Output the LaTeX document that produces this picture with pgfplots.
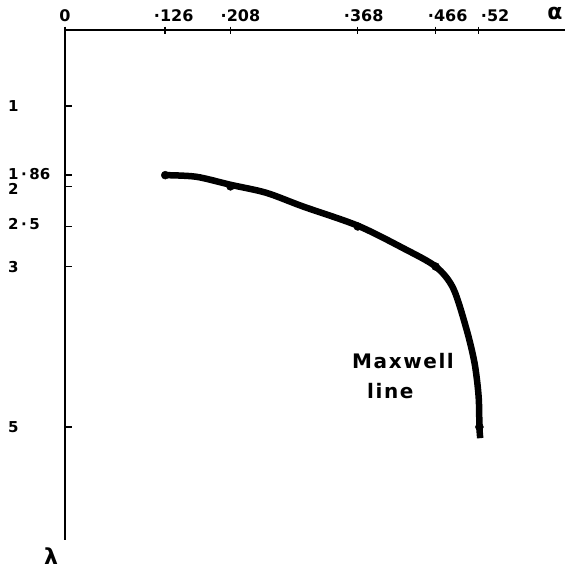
\documentclass[border=0pt]{standalone}
\usepackage{pgfplots}
\pgfplotsset{compat=1.18}
\usepackage{fontspec}
\setmainfont{DejaVu Sans}
\newfontfamily\lab{DejaVu Sans}
\newfontfamily\lsp[LetterSpace=8]{DejaVu Sans}
\newfontfamily\dv{DejaVu Sans}
\newcommand\sh[2]{\makebox[0pt]{\hspace*{#1}#2}}
\newcommand\rb[2]{\smash{\raisebox{#1}{#2}}}
\begin{document}
\begin{tikzpicture}[x=1pt,y=1pt]
\path[use as bounding box] (0,0) rectangle (565,-570);
\begin{axis}[at={(65pt,-30pt)}, anchor=north west, scale only axis,
 width=500pt, height=510pt,
 xmin=0, xmax=0.6286, ymin=0.05, ymax=6.41, y dir=reverse,
 axis x line*=top, axis y line*=left,
 x axis line style={line width=2pt},
 y axis line style={line width=2.6pt},
 tick align=inside, major tick length=7pt,
 tick style={line width=1.5pt,black},
 xtick style={yshift=3.5pt},
 xtick={0,0.126,0.208,0.368,0.466,0.52},
 xticklabels={{\sh{0pt}{0}},{\sh{17pt}{·126}},{\sh{20pt}{·208}},{\sh{12pt}{·368}},{\sh{24pt}{·466}},{\sh{33pt}{·52}}},
 ytick={1,1.86,2,2.5,3,5},
 yticklabels={{\rb{0pt}{1}},{\rb{1.5pt}{1\,·\,86}},{\rb{-3pt}{2}},{\rb{2.5pt}{2\,·\,5}},{\rb{0pt}{3}},{\rb{0pt}{5}}},
 xticklabel style={anchor=south, inner sep=0pt, yshift=8pt, font=\lab\bfseries\fontsize{16}{18}\selectfont},
 yticklabel style={anchor=west, inner sep=0pt, xshift=-57pt, yshift=-5.5pt, font=\lab\bfseries\fontsize{15}{17}\selectfont},
 clip=false]
\addplot[black, line width=6.5pt, smooth, tension=0.5] coordinates {
 (0.126,1.86) (0.165,1.88) (0.208,1.98) (0.253,2.08) (0.299,2.25)
 (0.368,2.49) (0.425,2.77) (0.466,3.0) (0.488,3.27) (0.505,3.79)
 (0.515,4.21) (0.520,4.62) (0.521,5.0) (0.522,5.14)};
\addplot[black, only marks, mark=*, mark size=4pt] coordinates {
 (0.126,1.86) (0.208,2.0) (0.368,2.5) (0.466,3.0) (0.521,5.0)};
\end{axis}
\node[anchor=center, inner sep=0pt] at (555,-13) {\dv\bfseries\fontsize{22}{24}\selectfont α};
\node[anchor=center, inner sep=0pt] at (51,-556) {\dv\bfseries\fontsize{22}{24}\selectfont λ};
\node[anchor=west, inner sep=0pt] at (352,-361) {\lsp\bfseries\fontsize{20}{22}\selectfont Maxwell};
\node[anchor=west, inner sep=0pt] at (367,-391) {\lsp\bfseries\fontsize{20}{22}\selectfont line};
\end{tikzpicture}
\end{document}
